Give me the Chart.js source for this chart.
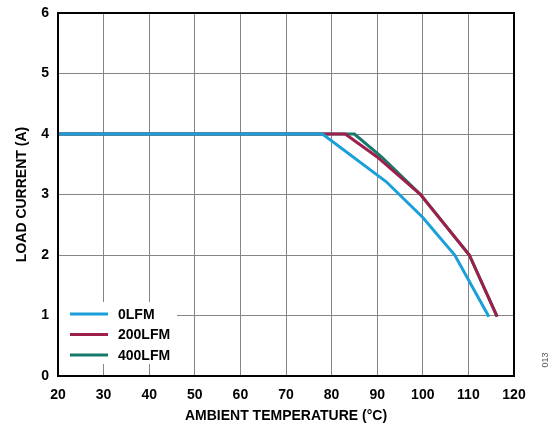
<!DOCTYPE html>
<html>
<head>
<meta charset="utf-8">
<script src="https://cdn.jsdelivr.net/npm/chart.js@4"></script>
<style>
  html, body { margin: 0; padding: 0; background: #fff; }
  #wrap { position: relative; width: 558px; height: 432px; }
</style>
</head>
<body>
<div id="wrap"><canvas id="chart" width="558" height="432"></canvas></div>
<script>
// derating curves
const temp0 = [20, 78, 92, 100, 107, 114.5];
const current0 = [4, 4, 3.21, 2.62, 2.0, 0.98];

const temp200 = [20, 83, 90, 99.5, 110.2, 116.3];
const current200 = [4, 4, 3.62, 3.0, 2.0, 0.98];

const temp400 = [20, 85, 91, 99.5, 110.2, 116.3];
const current400 = [4, 4, 3.62, 3.0, 2.0, 0.98];

const seriesNames = ['0LFM', '200LFM', '400LFM'];
const seriesColors = ['#1a9fd9', '#9e1f4b', '#157a6c'];

const xTicks = [20, 30, 40, 50, 60, 70, 80, 90, 100, 110, 120];
const yTicks = [0, 1, 2, 3, 4, 5, 6];

const FONT = "'Liberation Sans', Arial, sans-serif";

function pairs(xs, ys) {
  return xs.map((x, i) => ({ x: x, y: ys[i] }));
}

const datasets = [
  [temp0, current0],
  [temp200, current200],
  [temp400, current400]
].map((s, i) => ({
  label: seriesNames[i],
  data: pairs(s[0], s[1]),
  borderColor: seriesColors[i],
  backgroundColor: seriesColors[i],
  borderWidth: 3,
  pointRadius: 0,
  tension: 0,
  fill: false
}));

// legend box drawn inside the plot, bottom-left, with white background
const innerLegend = {
  id: 'innerLegend',
  afterDatasetsDraw(chart) {
    const ctx = chart.ctx;
    const area = chart.chartArea;
    ctx.save();
    ctx.fillStyle = '#fff';
    ctx.fillRect(area.left + 1, area.bottom - 74, 118, 62);
    ctx.font = 'bold 14px ' + FONT;
    ctx.textBaseline = 'middle';
    seriesNames.forEach((name, i) => {
      const y = area.bottom - 62 + i * 20.5;
      ctx.strokeStyle = seriesColors[i];
      ctx.lineWidth = 3;
      ctx.beginPath();
      ctx.moveTo(area.left + 12, y);
      ctx.lineTo(area.left + 50, y);
      ctx.stroke();
      ctx.fillStyle = '#000';
      ctx.fillText(name, area.left + 60, y + 1);
    });
    // redraw frame so the legend box doesn't cover it
    ctx.strokeStyle = '#000';
    ctx.lineWidth = 2;
    ctx.strokeRect(area.left, area.top, area.right - area.left, area.bottom - area.top);
    // figure code at right margin
    ctx.translate(546, 360);
    ctx.rotate(-Math.PI / 2);
    ctx.font = '9px ' + FONT;
    ctx.fillStyle = '#555';
    ctx.textAlign = 'center';
    ctx.fillText('013', 0, 0);
    ctx.restore();
  }
};

new Chart(document.getElementById('chart').getContext('2d'), {
  type: 'line',
  data: { datasets: datasets },
  plugins: [innerLegend],
  options: {
    responsive: false,
    animation: false,
    layout: { padding: { top: 13, right: 44, left: 14, bottom: 0 } },
    plugins: {
      legend: { display: false },
      tooltip: { enabled: false }
    },
    scales: {
      x: {
        type: 'linear',
        min: 20,
        max: 120,
        afterBuildTicks: (axis) => { axis.ticks = xTicks.map(v => ({ value: v })); },
        afterFit: (axis) => { axis.height = 56; },
        grid: { color: '#858585', lineWidth: 1, drawTicks: false },
        border: { color: '#000', width: 2 },
        ticks: {
          color: '#000',
          padding: 11,
          font: { family: FONT, size: 14, weight: 'bold' }
        },
        title: {
          display: true,
          text: 'AMBIENT TEMPERATURE (°C)',
          color: '#000',
          padding: { top: 0, bottom: 7 },
          font: { family: FONT, size: 14, weight: 'bold' }
        }
      },
      y: {
        min: 0,
        max: 6,
        afterBuildTicks: (axis) => { axis.ticks = yTicks.map(v => ({ value: v })); },
        afterFit: (axis) => {
          axis.width = 44;
          // let the top tick label sit on the frame edge, as in the original
          axis.paddingTop = 0;
          axis.paddingBottom = 0;
        },
        grid: { color: '#858585', lineWidth: 1, drawTicks: false },
        border: { color: '#000', width: 2 },
        ticks: {
          color: '#000',
          padding: 9,
          font: { family: FONT, size: 14, weight: 'bold' }
        },
        title: {
          display: true,
          text: 'LOAD CURRENT (A)',
          color: '#000',
          padding: { top: 0, bottom: 0 },
          font: { family: FONT, size: 14, weight: 'bold' }
        }
      }
    }
  }
});
</script>
</body>
</html>
